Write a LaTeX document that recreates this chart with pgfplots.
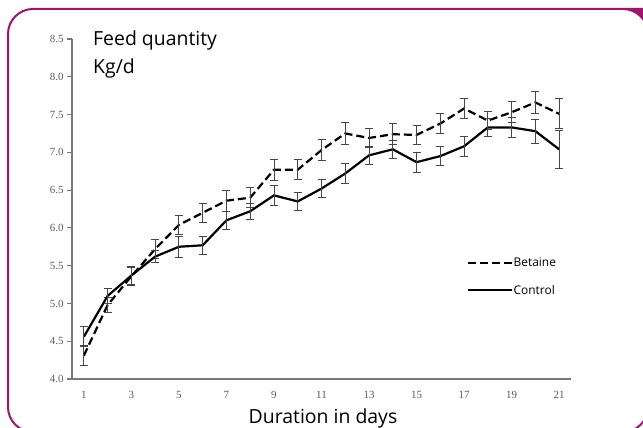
\documentclass[border=0pt]{standalone}
\usepackage{fontspec}
\setmainfont{Open Sans}
\newfontfamily\tickfont{Liberation Serif}
\usepackage{pgfplots}
\usepackage{pgfplotstable}
\pgfplotsset{compat=1.18}

\definecolor{frame}{RGB}{160,20,110}
\definecolor{axgray}{RGB}{120,120,120}
\definecolor{tickgray}{RGB}{90,90,90}
\definecolor{errgray}{RGB}{70,70,70}

% day, betaine mean/err, control mean/err
\pgfplotstableread{
day bet beterr con conerr
1  4.31 0.13 4.56 0.13
2  4.98 0.10 5.10 0.10
3  5.36 0.12 5.37 0.12
4  5.72 0.13 5.62 0.08
5  6.04 0.13 5.75 0.14
6  6.20 0.13 5.77 0.12
7  6.36 0.14 6.10 0.12
8  6.40 0.13 6.22 0.11
9  6.77 0.14 6.43 0.13
10 6.77 0.13 6.35 0.12
11 7.03 0.14 6.52 0.12
12 7.25 0.14 6.72 0.13
13 7.19 0.13 6.96 0.12
14 7.24 0.14 7.04 0.12
15 7.23 0.13 6.87 0.13
16 7.38 0.13 6.95 0.13
17 7.58 0.13 7.08 0.13
18 7.42 0.12 7.33 0.12
19 7.53 0.14 7.33 0.13
20 7.66 0.15 7.28 0.16
21 7.51 0.20 7.04 0.25
}\feed

\begin{document}
\begin{tikzpicture}
\useasboundingbox (0,0) rectangle (643bp,428bp);
\draw[frame, line width=2bp, rounded corners=25bp] (8bp,-4bp) rectangle (648bp,419bp);
\fill[frame] (623bp,420bp) -- (648bp,420bp) -- (648bp,394bp) arc[start angle=0, end angle=90, radius=25bp] -- cycle;

\node[anchor=base west, inner sep=0pt, font=\fontsize{19.5}{22}\selectfont] at (93bp,382bp) {Feed quantity};
\node[anchor=base west, inner sep=0pt, font=\fontsize{19.5}{22}\selectfont] at (93bp,354bp) {Kg/d};

\begin{axis}[
  at={(72bp,49bp)}, anchor=south west,
  scale only axis, width=499bp, height=340bp,
  xmin=0.5, xmax=21.5, ymin=4, ymax=8.5,
  axis lines=left, axis line style={-, draw=axgray, line width=1.6bp},
  xtick={1,3,...,21}, ytick={4,4.5,...,8.5},
  x tick style={draw=none},
  y tick style={draw=axgray, line width=1.2bp},
  major tick length=5bp, tick align=outside,
  tick label style={font=\tickfont\fontsize{11}{13}\selectfont, text=tickgray},
  /pgf/number format/assume math mode=true,
  yticklabel style={/pgf/number format/.cd, fixed, fixed zerofill, precision=1},
  xticklabel style={yshift=-4bp},
  xlabel={Duration in days},
  xlabel style={at={(axis description cs:0.503,-0.132)}, anchor=base, font=\fontsize{19.5}{22}\selectfont},
  clip=false,
  legend style={draw=none, fill=none, at={(0.79,0.36)}, anchor=north west,
    font=\fontsize{12}{14}\selectfont, row sep=15bp, inner sep=0pt,
    nodes={inner sep=1bp}},
  legend cell align=left,
  legend image code/.code={\draw[#1] (0bp,0bp) -- (44bp,0bp);},
  every axis plot/.append style={black, line width=2.2bp},
  error bars/error mark=|,
  error bars/error bar style={draw=errgray, line width=0.9bp, solid},
  error bars/error mark options={draw=errgray, line width=0.9bp, mark size=4bp, solid},
]
\addplot[dash pattern=on 8bp off 4bp, error bars/.cd, y dir=both, y explicit]
  table[x=day, y=bet, y error=beterr] {\feed};
\addlegendentry{Betaine}
\addplot[solid, error bars/.cd, y dir=both, y explicit]
  table[x=day, y=con, y error=conerr] {\feed};
\addlegendentry{Control}
\end{axis}
\end{tikzpicture}
\end{document}
